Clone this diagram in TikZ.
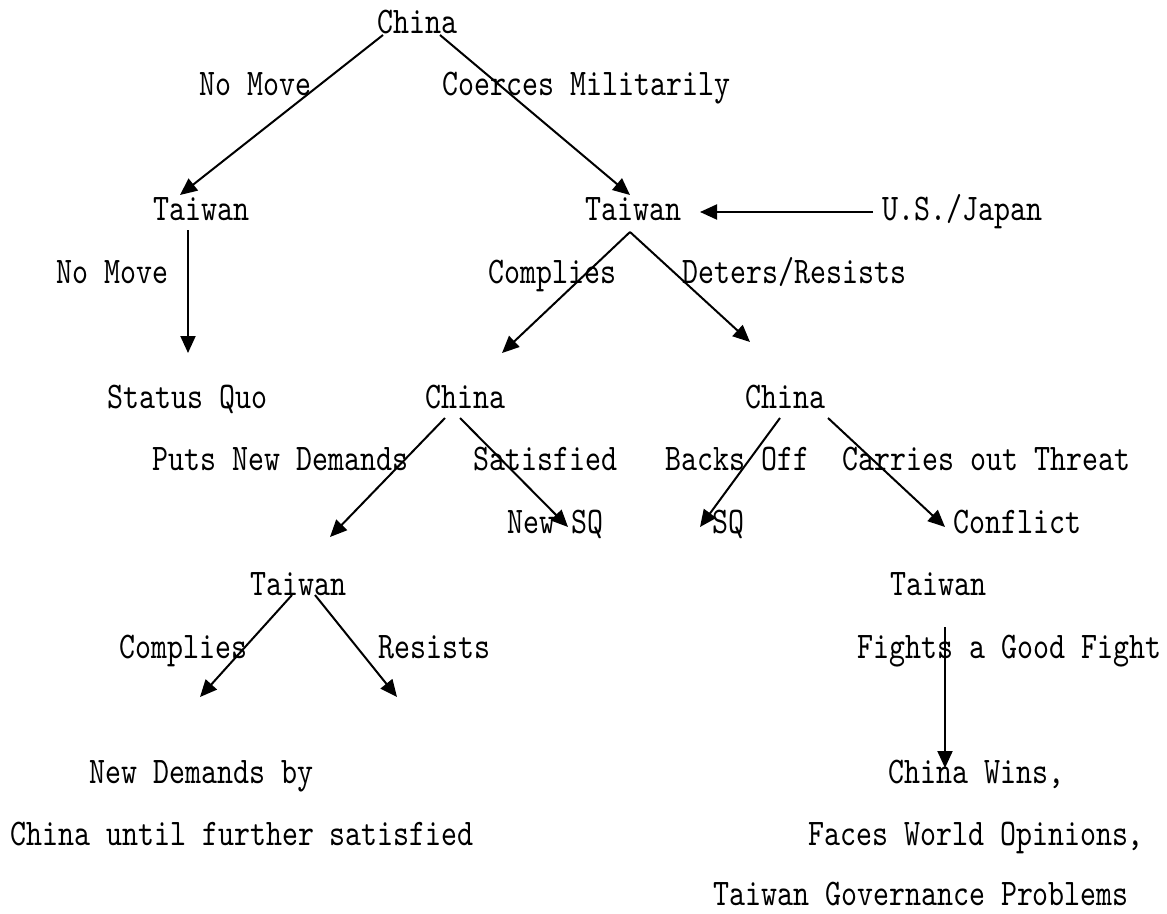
\documentclass[tikz,border=0pt]{standalone}
\usepackage{fontspec}
\usetikzlibrary{arrows.meta}
\newfontfamily\treefont{lmmono10-regular.otf}[FakeStretch=0.81]
\begin{document}
\begin{tikzpicture}[x=1pt,y=-1pt,
  lbl/.style={anchor=base west,inner sep=0pt,font=\treefont\fontsize{37.6}{40}\selectfont},
  arr/.style={line width=2pt,-{Triangle[length=17pt,width=15pt]}}]
\useasboundingbox (0,0) rectangle (1167,913);
% texts
\node[lbl] (chinaTop) at (377,33) {China};
\node[lbl] (noMoveA) at (199,95.5) {No Move};
\node[lbl] (coerces) at (442,95.5) {Coerces Militarily};
\node[lbl] (taiwanL) at (153,220.5) {Taiwan};
\node[lbl] (taiwanM) at (585,220.5) {Taiwan};
\node[lbl] (usjapan) at (882,220.5) {U.S./Japan};
\node[lbl] (noMoveB) at (56,283) {No Move};
\node[lbl] (compliesA) at (488,283) {Complies};
\node[lbl] (deters) at (682,283) {Deters/Resists};
\node[lbl] (statusquo) at (107,408) {Status Quo};
\node[lbl] (chinaL) at (425,408) {China};
\node[lbl] (chinaR) at (745,408) {China};
\node[lbl] (puts) at (152,470.5) {Puts New Demands};
\node[lbl] (satisfied) at (473,470.5) {Satisfied};
\node[lbl] (backs) at (665,470.5) {Backs Off};
\node[lbl] (carries) at (842,470.5) {Carries out Threat};
\node[lbl] (newsq) at (507,533) {New SQ};
\node[lbl] (sq) at (712,533) {SQ};
\node[lbl] (conflict) at (953,533) {Conflict};
\node[lbl] (taiwanLL) at (250,595.5) {Taiwan};
\node[lbl] (taiwanRR) at (890,595.5) {Taiwan};
\node[lbl] (compliesB) at (119,658) {Complies};
\node[lbl] (resists) at (378,658) {Resists};
\node[lbl] (fights) at (857,658) {Fights a Good Fight};
\node[lbl] (newdem) at (89,783) {New Demands by};
\node[lbl] (chinawins) at (888,783) {China Wins,};
\node[lbl] (chinauntil) at (10,845.5) {China until further satisfied};
\node[lbl] (faces) at (808,845.5) {Faces World Opinions,};
\node[lbl] (govern) at (713,905) {Taiwan Governance Problems};
% connector ends
\coordinate (a1) at (383,35);   \coordinate (b1) at (180,195);
\coordinate (a2) at (440,35);   \coordinate (b2) at (630,195);
\coordinate (a3) at (188,230);  \coordinate (b3) at (188,353);
\coordinate (a4) at (873,212);  \coordinate (b4) at (700,212);
\coordinate (a5) at (630,232);  \coordinate (b5) at (502,353);
\coordinate (b6) at (750,342);
\coordinate (a7) at (445,418);  \coordinate (b7) at (330,537);
\coordinate (a8) at (460,418);  \coordinate (b8) at (568,527);
\coordinate (a9) at (780,418);  \coordinate (b9) at (700,527);
\coordinate (a10) at (828,418); \coordinate (b10) at (945,527);
\coordinate (a11) at (292,595); \coordinate (b11) at (200,697);
\coordinate (a12) at (315,595); \coordinate (b12) at (397,697);
\coordinate (a13) at (945,627); \coordinate (b13) at (945,768);
% connectors
\draw[arr] (a1) -- (b1);
\draw[arr] (a2) -- (b2);
\draw[arr] (a3) -- (b3);
\draw[arr] (a4) -- (b4);
\draw[arr] (a5) -- (b5);
\draw[arr] (a5) -- (b6);
\draw[arr] (a7) -- (b7);
\draw[arr] (a8) -- (b8);
\draw[arr] (a9) -- (b9);
\draw[arr] (a10) -- (b10);
\draw[arr] (a11) -- (b11);
\draw[arr] (a12) -- (b12);
\draw[arr] (a13) -- (b13);
\end{tikzpicture}
\end{document}
